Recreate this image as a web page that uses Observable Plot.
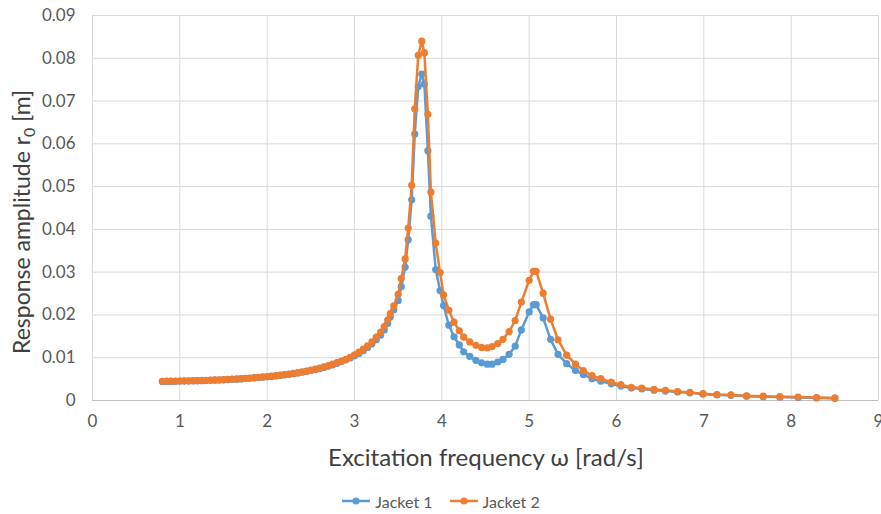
<!DOCTYPE html>
<html><head><meta charset="utf-8">
<script src="https://cdn.jsdelivr.net/npm/d3@7"></script>
<script src="https://cdn.jsdelivr.net/npm/@observablehq/plot@0.6"></script>
<style>
body{margin:0;background:#fff;font-family:Lato,"Open Sans",sans-serif;}
#chart svg{display:block;}
#legend{display:flex;justify-content:center;align-items:center;gap:16px;height:34px;padding-top:14px;font-size:16px;color:#595959;}
#legend .item{display:flex;align-items:center;gap:4px;}
</style></head><body>
<div id="chart"></div>
<div id="legend"></div>
<script>
const freq = [
 0.80,0.85,0.90,0.95,1.00,1.05,1.10,1.15,1.20,1.25,
 1.30,1.35,1.40,1.45,1.50,1.55,1.60,1.65,1.70,1.75,
 1.80,1.85,1.90,1.95,2.00,2.05,2.10,2.15,2.20,2.25,
 2.30,2.35,2.40,2.45,2.50,2.55,2.60,2.65,2.70,2.75,
 2.80,2.85,2.90,2.95,3.00,3.05,3.10,3.15,3.20,3.25,3.30,
 3.34,3.38,3.41,3.45,3.50,3.535,3.58,3.615,3.655,3.69,
 3.73,3.77,3.80,3.84,3.875,3.93,3.98,4.02,4.08,4.14,
 4.20,4.25,4.32,4.39,4.455,4.52,4.575,4.64,4.70,4.77,
 4.84,4.91,5.00,5.05,5.08,5.16,5.245,5.33,5.43,5.53,
 5.62,5.72,5.82,5.94,6.05,6.17,6.29,6.43,6.56,6.70,
 6.84,6.99,7.15,7.31,7.49,7.68,7.87,8.08,8.29,8.50
];
const jacket1 = [
 .00445,.00446,.00447,.00449,.00451,.00453,.00455,.00458,.00461,.00464,
 .00467,.00471,.00475,.00479,.00484,.00489,.00494,.00499,.00505,.00512,
 .00519,.00527,.00535,.00544,.00553,.00563,.00574,.00586,.00598,.00612,
 .00627,.00643,.00660,.00679,.00699,.00721,.00745,.00772,.00801,.00833,
 .00869,.00909,.00950,.00995,.01045,.01100,.01165,.01240,.01325,.01420,.01530,
 .0165,.0180,.0195,.0212,.0234,.0266,.0312,.0376,.0469,.0623,
 .0734,.0763,.0740,.0584,.0431,.0306,.0257,.0222,.0176,.0149,
 .0130,.0114,.0103,.0094,.0088,.0085,.0085,.0090,.0096,.0108,
 .0127,.0165,.0207,.0224,.0224,.0193,.0143,.0108,.0086,.0070,
 .0061,.0051,.0045,.0039,.0034,.0029,.0027,.0024,.0022,.0020,
 .0018,.0015,.0013,.0012,.0010,.0009,.0008,.0007,.0006,.0005
];
const jacket2 = [
 .00450,.00451,.00452,.00454,.00456,.00458,.00460,.00463,.00466,.00469,
 .00472,.00476,.00480,.00484,.00489,.00494,.00499,.00505,.00511,.00518,
 .00525,.00533,.00541,.00550,.00560,.00570,.00581,.00593,.00606,.00620,
 .00635,.00651,.00669,.00688,.00709,.00732,.00757,.00785,.00815,.00848,
 .00885,.00920,.00960,.01010,.01070,.01130,.01200,.01280,.01370,.01480,.01600,
 .0173,.0188,.0203,.0221,.0248,.0285,.0331,.0403,.0503,.0682,
 .0807,.0840,.0813,.0669,.0487,.0368,.0299,.0247,.0211,.0183,
 .0163,.0148,.0137,.0129,.0124,.0123,.0126,.0133,.0143,.0161,
 .0187,.0230,.0281,.0302,.0302,.0251,.0190,.0142,.0106,.0085,
 .0070,.0058,.0051,.0043,.0037,.0031,.0029,.0026,.0024,.0021,
 .0019,.0016,.0014,.0013,.0011,.0010,.0009,.0008,.0007,.0006
];
const seriesNames = ["Jacket 1", "Jacket 2"];
const seriesColors = ["#5B9BD5", "#ED7D31"];
const xTicks = [0,1,2,3,4,5,6,7,8,9];
const yTicks = [0,0.01,0.02,0.03,0.04,0.05,0.06,0.07,0.08,0.09];
const xTitle = "Excitation frequency ω [rad/s]";
const yTitleMain = "Response amplitude r";
const yTitleSub = "0";
const yTitleEnd = " [m]";

const seriesValues = [jacket1, jacket2];
const tables = seriesValues.map((vals, k) => freq.map((f, i) => ({f, r: vals[i], s: seriesNames[k]})));

const marks = [
  Plot.gridX(xTicks, {stroke: "#d9d9d9", strokeOpacity: 1, strokeWidth: 1}),
  Plot.gridY(yTicks, {stroke: "#d9d9d9", strokeOpacity: 1, strokeWidth: 1}),
  Plot.ruleY([0], {stroke: "#bfbfbf", strokeWidth: 1})
];
tables.forEach((t, k) => {
  marks.push(Plot.line(t, {x: "f", y: "r", stroke: seriesColors[k], strokeWidth: 2.5}));
  marks.push(Plot.dot(t, {x: "f", y: "r", r: 3.6, fill: seriesColors[k], stroke: "none"}));
});

const plot = Plot.plot({
  width: 881, height: 470,
  marginLeft: 92, marginRight: 3, marginTop: 15, marginBottom: 70,
  style: {fontFamily: "Lato", fontSize: "17px", color: "#595959", background: "#fff"},
  x: {domain: [0, 9], ticks: xTicks, tickSize: 0, tickPadding: 14, label: null},
  y: {domain: [0, 0.09], ticks: yTicks, tickSize: 0, tickPadding: 17, label: null,
      tickFormat: d => d === 0 ? "0" : d.toFixed(2)},
  marks
});
document.getElementById("chart").appendChild(plot);

const svg = d3.select(plot);
svg.append("text")
  .attr("x", 486).attr("y", 466)
  .attr("text-anchor", "middle")
  .attr("font-family", "Lato").attr("font-size", 24).attr("fill", "#404040")
  .text(xTitle);
const yt = svg.append("text")
  .attr("transform", "translate(30,354) rotate(-90)")
  .attr("text-anchor", "start")
  .attr("font-family", "Lato").attr("font-size", 23).attr("fill", "#404040");
yt.append("tspan").text(yTitleMain);
yt.append("tspan").attr("font-size", 16).attr("dy", 5).text(yTitleSub);
yt.append("tspan").attr("dy", -5).text(yTitleEnd);

const legend = d3.select("#legend");
seriesNames.forEach((n, k) => {
  const it = legend.append("div").attr("class", "item");
  const s = it.append("svg").attr("width", 30).attr("height", 12);
  s.append("line").attr("x1", 1).attr("x2", 29).attr("y1", 6).attr("y2", 6)
    .attr("stroke", seriesColors[k]).attr("stroke-width", 2.5);
  s.append("circle").attr("cx", 15).attr("cy", 6).attr("r", 3.6).attr("fill", seriesColors[k]);
  it.append("span").text(n);
});
</script>
</body></html>
